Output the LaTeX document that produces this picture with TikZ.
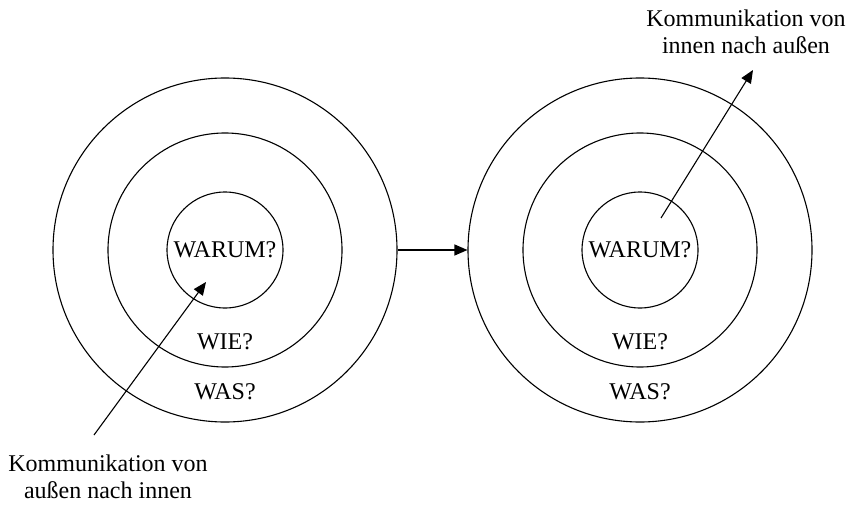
\documentclass[tikz,border=0pt]{standalone}
\usepackage{fontspec}
\setmainfont{Liberation Serif}
\usetikzlibrary{arrows.meta}
\begin{document}
\begin{tikzpicture}[x=1pt,y=-1pt,
  ring/.style={draw,circle,line width=1.1pt,inner sep=0pt,minimum size=#1},
  lbl/.style={font=\fontsize{24}{27}\selectfont,inner sep=0pt},
  captext/.style={font=\fontsize{24}{27}\selectfont,align=center,inner sep=0pt},
  arr/.style={line width=1.1pt,-{Triangle[length=13pt,width=11pt]}}]
\useasboundingbox (0,0) rectangle (850,505);
% left rings
\node[ring=344pt] (L1) at (225,250) {};
\node[ring=234pt] (L2) at (225,250) {};
\node[ring=116pt] (L3) at (225,250) {};
% right rings
\node[ring=344pt] (R1) at (640,250) {};
\node[ring=234pt] (R2) at (640,250) {};
\node[ring=116pt] (R3) at (640,250) {};
% labels
\node[lbl] (Lwarum) at (225,250) {WARUM?};
\node[lbl] (Lwie) at (225,342) {WIE?};
\node[lbl] (Lwas) at (225,392) {WAS?};
\node[lbl] (Rwarum) at (640,250) {WARUM?};
\node[lbl] (Rwie) at (640,342) {WIE?};
\node[lbl] (Rwas) at (640,392) {WAS?};
% captions
\node[captext] (Lcap) at (108,477) {Kommunikation von\\außen nach innen};
\node[captext] (Rcap) at (746,32) {Kommunikation von\\innen nach außen};
% connectors
\draw[arr] (L1.east) -- (R1.west);
\coordinate (Ltail) at (94,435);
\coordinate (Ltip) at (206,282);
\draw[arr] (Ltail) -- (Ltip);
\coordinate (Rtail) at (661,218);
\coordinate (Rtip) at (753,70);
\draw[arr] (Rtail) -- (Rtip);
\end{tikzpicture}
\end{document}
